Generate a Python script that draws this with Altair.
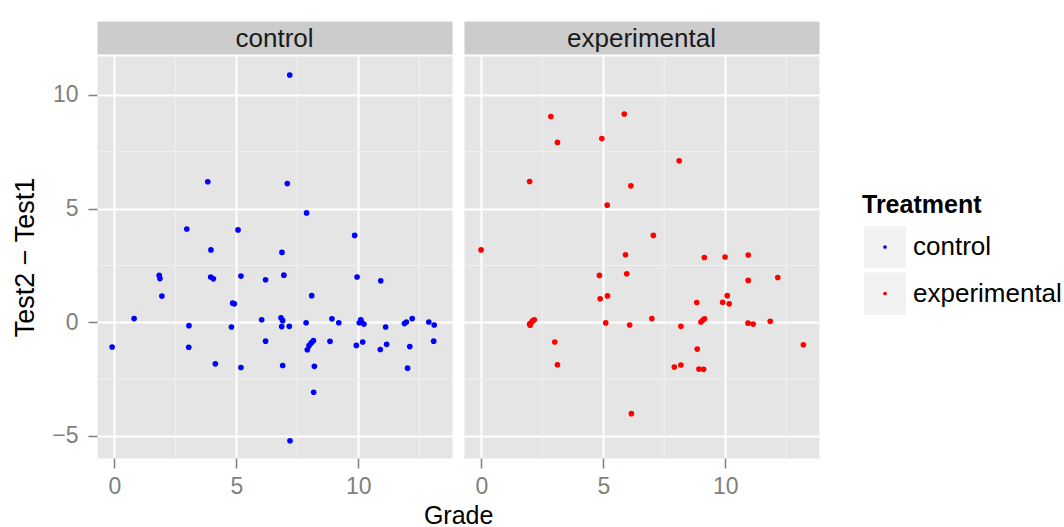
import altair as alt
import pandas as pd

treatments = ["control", "experimental"]
colors = ["#0000FF", "#FF0000"]

ctrl_grade = [3.83, 2.97, 5.07, 3.96, 7.19, 7.09, 7.88, 9.85, 6.87,
              1.84, 1.87, 3.95, 4.06, 5.19, 6.2, 1.95, 4.85, 4.92, 0.81, 6.04,
              3.06, 4.8, -0.09, 3.05, 6.2, 4.14, 5.19,
              6.95, 9.95, 10.92, 8.09, 6.83, 6.9, 6.86, 7.17, 7.86, 8.92, 9.2,
              10.1, 10.04, 10.23, 10.12, 11.12, 11.89, 11.97, 12.21, 12.89, 13.11,
              13.09, 8.16, 8.07, 7.98, 7.91, 8.84, 9.92, 10.18, 10.9, 11.16, 12.11,
              6.9, 8.2, 12.02, 8.17, 7.2]
ctrl_diff = [6.18, 4.10, 4.06, 3.18, 10.87, 6.10, 4.81, 3.82, 3.07,
             2.06, 1.92, 1.99, 1.91, 2.03, 1.87, 1.15, 0.84, 0.81, 0.16, 0.11,
             -0.15, -0.21, -1.09, -1.10, -0.83, -1.83, -1.99,
             2.07, 1.99, 1.82, 1.17, 0.2, 0.07, -0.19, -0.18, -0.02, 0.15, -0.02,
             0.11, -0.02, -0.08, 0.03, -0.21, -0.06, 0.01, 0.16, 0.01, -0.12,
             -0.83, -0.81, -0.91, -1.03, -1.21, -0.84, -1.02, -0.87, -1.2, -0.97, -1.07,
             -1.9, -1.94, -2.02, -3.08, -5.21]

exp_grade = [2.85, 5.86, 3.12, 4.94, 1.98, 6.13, 5.16, -0.01, 5.91,
             8.11, 7.05, 9.14, 9.99, 10.94,
             5.96, 4.84, 4.87, 5.17, 1.98, 2.04, 2.10, 2.17, 2.0, 5.1, 6.08,
             3.01, 3.12, 6.15,
             10.94, 12.15, 10.08, 8.83, 9.89, 10.16, 6.99, 9.0, 9.07, 9.15, 8.18,
             10.93, 11.14, 11.84, 13.2, 8.85, 7.91, 8.18, 8.92, 9.11]
exp_diff = [9.05, 9.16, 7.91, 8.08, 6.19, 6.0, 5.15, 3.18, 2.97,
            7.1, 3.82, 2.85, 2.87, 2.96,
            2.13, 2.06, 1.03, 1.16, -0.08, -0.02, 0.06, 0.11, -0.13, -0.03, -0.12,
            -0.87, -1.87, -4.02,
            1.84, 1.97, 1.17, 0.87, 0.88, 0.81, 0.16, 0.01, 0.09, 0.15, -0.18,
            -0.04, -0.08, 0.04, -0.99, -1.18, -1.97, -1.88, -2.06, -2.07]

x_ticks = [0, 5, 10]
y_ticks = [-5, 0, 5, 10]
x_minor = [2.5, 7.5, 12.5]
y_minor = [-2.5, 2.5, 7.5]
x_domain = [-0.71, 13.84]
y_domain = [-5.97, 11.71]

FONT = "Liberation Sans"
W = 355
H = 402
STRIP_H = 33
GRID = "#FFFFFF"
MINOR = "#F2F2F2"
PANEL_BG = "#E5E5E5"
TICK_COL = "#7F7F7F"
TICK_FS = 23
TITLE_FS = 27
TEXT_FS = 26

xs = alt.Scale(domain=x_domain, nice=False, zero=False)
ys = alt.Scale(domain=y_domain, nice=False, zero=False)
cs = alt.Scale(domain=treatments, range=colors)


def panel(name, grades, diffs, show_y):
    df = pd.DataFrame({"Grade": grades, "Diff": diffs, "Treatment": [name] * len(grades)})
    xaxis = alt.Axis(values=x_ticks, title="", domain=False, grid=True, gridColor=GRID,
                     gridWidth=2, tickColor=TICK_COL, tickSize=10, tickWidth=1.5,
                     labelColor=TICK_COL, labelFontSize=TICK_FS, labelFont=FONT, labelPadding=7)
    if show_y:
        yaxis = alt.Axis(values=y_ticks, title="Test2 − Test1", domain=False, grid=True,
                         gridColor=GRID, gridWidth=2, tickColor=TICK_COL, tickSize=9,
                         tickWidth=1.5, labelColor=TICK_COL, labelFontSize=TICK_FS, labelFont=FONT,
                         labelPadding=10, titleFont=FONT, titleFontSize=TITLE_FS,
                         titleFontWeight="normal", titleColor="black", titlePadding=12)
    else:
        yaxis = alt.Axis(values=y_ticks, title="", domain=False, grid=True, gridColor=GRID,
                         gridWidth=2, ticks=False, labels=False)
    vminor = alt.Chart(pd.DataFrame({"Grade": x_minor})).mark_rule(
        color=MINOR, strokeWidth=1).encode(x=alt.X("Grade:Q", scale=xs, axis=xaxis))
    hminor = alt.Chart(pd.DataFrame({"Diff": y_minor})).mark_rule(
        color=MINOR, strokeWidth=1).encode(y=alt.Y("Diff:Q", scale=ys, axis=yaxis))
    pts = alt.Chart(df).mark_circle(size=32, opacity=1).encode(
        x=alt.X("Grade:Q", scale=xs, axis=xaxis),
        y=alt.Y("Diff:Q", scale=ys, axis=yaxis),
        color=alt.Color("Treatment:N", scale=cs, legend=None),
    )
    plot = alt.layer(vminor, hminor, pts).properties(
        width=W, height=H, view=alt.ViewBackground(fill=PANEL_BG, stroke="transparent"))
    strip = alt.Chart(pd.DataFrame({"t": [name]})).mark_text(
        font=FONT, fontSize=TEXT_FS, color="#1A1A1A", baseline="middle", align="center").encode(
        text="t:N", x=alt.value(W / 2), y=alt.value(STRIP_H / 2 + 1)).properties(
        width=W, height=STRIP_H, view=alt.ViewBackground(fill="#CCCCCC", stroke="transparent"))
    return alt.vconcat(strip, plot, spacing=0)


panels = alt.hconcat(
    panel("control", ctrl_grade, ctrl_diff, True),
    panel("experimental", exp_grade, exp_diff, False),
    spacing=10,
).properties(title=alt.TitleParams("Grade", orient="bottom", anchor="middle", font=FONT,
                                   fontSize=25, fontWeight="normal", color="black",
                                   offset=5, dx=43))

# legend built from the treatment list
leg_df = pd.DataFrame({"Treatment": treatments})
ly = alt.Y("Treatment:N", scale=alt.Scale(type="point", domain=treatments, range=[226, 272.5], padding=0), axis=None)
leg_title = alt.Chart(pd.DataFrame({"t": ["Treatment"]})).mark_text(
    font=FONT, fontSize=TEXT_FS - 1, fontWeight="bold", align="left", baseline="middle", color="black").encode(
    text="t:N", x=alt.value(29), y=alt.value(184))
leg_box = alt.Chart(leg_df).mark_square(size=42 * 42, color=MINOR, opacity=1).encode(
    x=alt.value(52), y=ly)
leg_dot = alt.Chart(leg_df).mark_circle(size=14, opacity=1).encode(
    x=alt.value(52), y=ly, color=alt.Color("Treatment:N", scale=cs, legend=None))
leg_text = alt.Chart(leg_df).mark_text(
    font=FONT, fontSize=TEXT_FS, align="left", baseline="middle", color="black").encode(
    x=alt.value(80), y=ly, text="Treatment:N")
legend = alt.layer(leg_title, leg_box, leg_dot, leg_text).properties(
    width=225, height=STRIP_H + H, view=alt.ViewBackground(fill="transparent", stroke="transparent"))

chart = alt.hconcat(panels, legend, spacing=12).properties(
    padding={"left": 11, "top": 20, "right": 0, "bottom": 0},
    background="white",
).configure(font=FONT)

chart.save("out.html", embed_options={"renderer": "svg", "actions": False})
